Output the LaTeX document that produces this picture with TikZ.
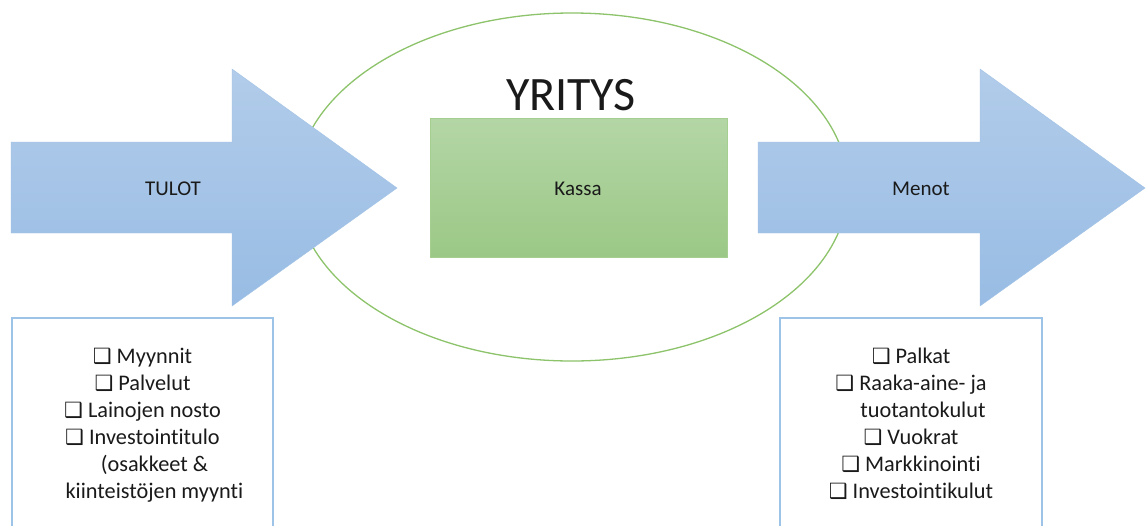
\documentclass[tikz,border=0pt]{standalone}
\usepackage{fontspec}
\setmainfont{Carlito}[Ligatures=NoCommon]
\newfontfamily\symfont{DejaVu Sans}
\definecolor{arrowtop}{HTML}{B2CCEA}
\definecolor{arrowbot}{HTML}{98BCE4}
\definecolor{ellcol}{HTML}{8DC36A}
\definecolor{kasstop}{HTML}{B4D6A6}
\definecolor{kassbot}{HTML}{9BC886}
\definecolor{kassedge}{HTML}{A4CF90}
\definecolor{boxedge}{HTML}{9DC3E6}
\definecolor{txt}{HTML}{1A1A1A}
\newcommand{\cbx}{{\symfont\fontsize{21}{21}\selectfont ❑}\ }
\newcommand{\cbp}{\phantom{\cbx}}
\tikzset{
  bigarrow/.style={top color=arrowtop, bottom color=arrowbot, draw=arrowbot!90!white, line width=0.4pt},
  lbl/.style={text=txt, font=\fontsize{21}{25}\selectfont, inner sep=0pt},
  listtxt/.style={text=txt, font=\fontsize{22.3}{27}\selectfont, align=center, inner sep=0pt, anchor=north},
  listbox/.style={draw=boxedge, line width=1.2pt, fill=white}
}
\begin{document}
\begin{tikzpicture}[x=1pt,y=-1pt]
\clip (0,0) rectangle (1148,525);
\fill[white] (0,0) rectangle (1148,525);
% company ellipse
\draw[ellcol, line width=1.3pt] (572,187) ellipse [x radius=276, y radius=174];
% arrows
\shade[bigarrow] (11,142) -- (232,142) -- (232,69) -- (397,188) -- (232,306) -- (232,233) -- (11,233) -- cycle;
\shade[bigarrow] (758,142) -- (980,142) -- (980,69) -- (1145,188) -- (980,306) -- (980,233) -- (758,233) -- cycle;
\node[lbl] (tulot) at (173,189) {TULOT};
\node[lbl] (menot) at (921,189) {Menot};
% kassa
\shade[top color=kasstop, bottom color=kassbot, draw=kassedge, line width=0.6pt] (430,118) rectangle (727,257);
\node[lbl] (kassa) at (578,189) {Kassa};
\node[text=txt, font=\fontsize{48}{50}\selectfont, inner sep=0pt, anchor=base] (yritys) at (571,110) {YRITYS};
% lists
\draw[listbox] (12,318) rectangle (273,540);
\draw[listbox] (780,318) rectangle (1042,540);
\node[listtxt] (tulolista) at (142.5,348) {\cbx Myynnit\\ \cbx Palvelut\\ \cbx Lainojen nosto\\ \cbx Investointitulo\\ \cbp(osakkeet \&\\ \cbp kiinteistöjen myynti};
\node[listtxt] (menolista) at (911,348) {\cbx Palkat\\ \cbx Raaka-aine- ja\\ \cbp tuotantokulut\\ \cbx Vuokrat\\ \cbx Markkinointi\\ \cbx Investointikulut};
\end{tikzpicture}
\end{document}
